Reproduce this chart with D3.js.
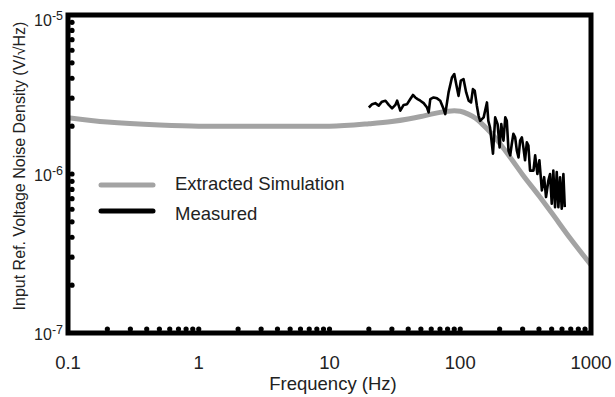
<!DOCTYPE html>
<html>
<head>
<meta charset="utf-8">
<script src="https://cdn.jsdelivr.net/npm/d3@7"></script>
<style>
  body { margin: 0; background: #fff; }
  text { font-family: "Liberation Sans", Arial, sans-serif; fill: #222; }
</style>
</head>
<body>
<div id="chart"></div>
<script>
// extracted simulation (Hz, V/sqrt(Hz))
const simFreq = [0.1, 0.2, 0.5, 1, 2, 5, 10, 20, 30, 40, 50, 60, 70, 80, 90, 100, 115, 130, 150, 170, 200, 250, 300, 400, 500, 700, 1000];
const simNoise = [2.26e-6, 2.12e-6, 2.03e-6, 2.0e-6, 2.0e-6, 2.0e-6, 2.0e-6, 2.07e-6, 2.14e-6, 2.22e-6, 2.3e-6, 2.38e-6, 2.44e-6, 2.48e-6, 2.5e-6, 2.48e-6, 2.38e-6, 2.25e-6, 2.03e-6, 1.83e-6, 1.56e-6, 1.22e-6, 0.99e-6, 0.73e-6, 0.57e-6, 0.39e-6, 0.268e-6];

// measured
const measFreq = [20.0, 21.2, 22.4, 23.8, 25.2, 26.8, 28.4, 30.1, 31.9, 32.9, 34.8, 36.9, 39.2, 41.5, 43.5, 45.3, 47.2, 49.5, 52.5, 55.7, 57.3,
  59.0, 62.5, 66.4, 70.3, 74.6, 76.8, 81.4, 86.4, 90.0, 93.1, 97.0, 101, 106, 111, 116, 121, 125, 129, 134, 138,
  142, 151, 160, 164, 169, 178, 185, 193, 200, 206, 214, 221, 227, 234, 241, 248, 255, 263, 271, 279, 287, 296, 304, 313, 323, 332, 342,
  363, 374, 389, 403, 421, 438, 453, 472, 486, 501, 515, 531, 547, 563, 580, 597, 615, 630];
const measNoise = [2.62, 2.75, 2.79, 2.69, 2.85, 2.89, 2.72, 2.59, 2.72, 2.89, 2.50, 2.72, 2.75, 2.96, 3.14, 3.03, 2.96, 2.89, 2.79, 2.62, 2.44,
  2.96, 3.03, 2.99, 2.89, 2.56, 2.38, 3.26, 4.05, 4.25, 3.68, 3.10, 3.86, 3.95, 3.26, 2.89, 2.82, 3.42, 3.34, 2.69, 2.33,
  2.16, 2.27, 2.82, 2.16, 1.96, 1.34, 2.27, 2.06, 1.47, 2.06, 1.62, 2.27, 2.16, 1.40, 1.31, 1.55, 1.79, 1.70, 1.40, 1.27, 1.62, 1.70, 1.47, 1.22, 1.58, 1.51, 1.05,
  1.05, 1.31, 1.00, 1.22, 0.789, 0.955, 0.716, 0.910, 1.00, 0.650, 1.05, 0.619, 1.03, 0.619, 0.955, 0.605, 1.00, 0.619].map(v => v * 1e-6);

const xTicks = [0.1, 1, 10, 100, 1000];
const xTickLabels = ["0.1", "1", "10", "100", "1000"];
const yTicks = [1e-5, 1e-6, 1e-7];
const yTickExp = ["-5", "-6", "-7"];
const xMinor = [0.2, 0.3, 0.4, 0.5, 0.6, 0.7, 0.8, 0.9, 1, 2, 3, 4, 5, 6, 7, 8, 9, 10, 20, 30, 40, 50, 60, 70, 80, 90, 100, 200, 300, 400, 500, 600, 700, 800, 900];
const yMinor = [2e-7, 3e-7, 4e-7, 5e-7, 6e-7, 7e-7, 8e-7, 9e-7, 1e-6, 2e-6, 3e-6, 4e-6, 5e-6, 6e-6, 7e-6, 8e-6, 9e-6];

const legendLabels = ["Extracted Simulation", "Measured"];

let width = 615,
    height = 397,
    margin = ({ top: 15, right: 24, bottom: 64, left: 68 });

const svg = d3.select("#chart")
  .append("svg")
  .attr("width", width)
  .attr("height", height);

let x = d3.scaleLog()
  .domain([0.1, 1000])
  .range([margin.left, width - margin.right]);

let y = d3.scaleLog()
  .domain([1e-7, 1e-5])
  .range([height - margin.bottom, margin.top]);

svg.append("clipPath").attr("id", "plot")
  .append("rect")
  .attr("x", margin.left).attr("y", margin.top)
  .attr("width", x(1000) - margin.left).attr("height", y(1e-7) - margin.top);

// minor ticks drawn as dots
svg.append("g")
  .selectAll("circle")
  .data(xMinor)
  .join("circle")
  .attr("cx", d => x(d))
  .attr("cy", y(1e-7) - 4)
  .attr("r", 2.6)
  .attr("fill", "black");

svg.append("g")
  .selectAll("circle")
  .data(yMinor)
  .join("circle")
  .attr("cx", x(0.1) + 4)
  .attr("cy", d => y(d))
  .attr("r", 2.6)
  .attr("fill", "black");

const line = d3.line()
  .x(d => x(d[0]))
  .y(d => y(d[1]));

svg.append("path")
  .datum(simFreq.map((f, i) => [f, simNoise[i]]))
  .attr("clip-path", "url(#plot)")
  .attr("fill", "none")
  .attr("stroke", "#a3a3a3")
  .attr("stroke-width", 5)
  .attr("d", line.curve(d3.curveMonotoneX));

svg.append("path")
  .datum(measFreq.map((f, i) => [f, measNoise[i]]))
  .attr("fill", "none")
  .attr("stroke", "black")
  .attr("stroke-width", 2.6)
  .attr("stroke-linejoin", "round")
  .attr("d", line.curve(d3.curveLinear));

// frame
svg.append("rect")
  .attr("x", x(0.1))
  .attr("y", y(1e-5))
  .attr("width", x(1000) - x(0.1))
  .attr("height", y(1e-7) - y(1e-5))
  .attr("fill", "none")
  .attr("stroke", "black")
  .attr("stroke-width", 5);

// tick labels
svg.append("g")
  .selectAll("text")
  .data(xTicks)
  .join("text")
  .attr("x", d => x(d))
  .attr("y", 369)
  .attr("text-anchor", "middle")
  .attr("font-size", 18.5)
  .text((d, i) => xTickLabels[i]);

const yl = svg.append("g")
  .selectAll("text")
  .data(yTicks)
  .join("text")
  .attr("x", 63)
  .attr("y", (d, i) => y(d) + (i === 0 ? 11 : 7))
  .attr("text-anchor", "end")
  .attr("font-size", 16);
yl.append("tspan").text("10");
yl.append("tspan")
  .attr("dy", -6)
  .attr("font-size", 12.5)
  .text((d, i) => yTickExp[i]);

// axis titles
svg.append("text")
  .attr("x", 333)
  .attr("y", 390)
  .attr("text-anchor", "middle")
  .attr("font-size", 18.5)
  .text("Frequency (Hz)");

svg.append("text")
  .attr("transform", "translate(25,166) rotate(-90)")
  .attr("text-anchor", "middle")
  .attr("font-size", 16)
  .text("Input Ref. Voltage Noise Density (V/\u221AHz)");

// legend
const legend = svg.append("g")
  .selectAll("g")
  .data(legendLabels)
  .join("g")
  .attr("transform", (d, i) => `translate(101,${185 + i * 26})`);

legend.append("line")
  .attr("x1", 0).attr("x2", 52)
  .attr("stroke", (d, i) => i === 0 ? "#a3a3a3" : "black")
  .attr("stroke-width", 5)
  .attr("stroke-linecap", "round");

legend.append("text")
  .attr("x", 74)
  .attr("y", (d, i) => i === 0 ? 5 : 9)
  .attr("font-size", 18.5)
  .text(d => d);
</script>
</body>
</html>
